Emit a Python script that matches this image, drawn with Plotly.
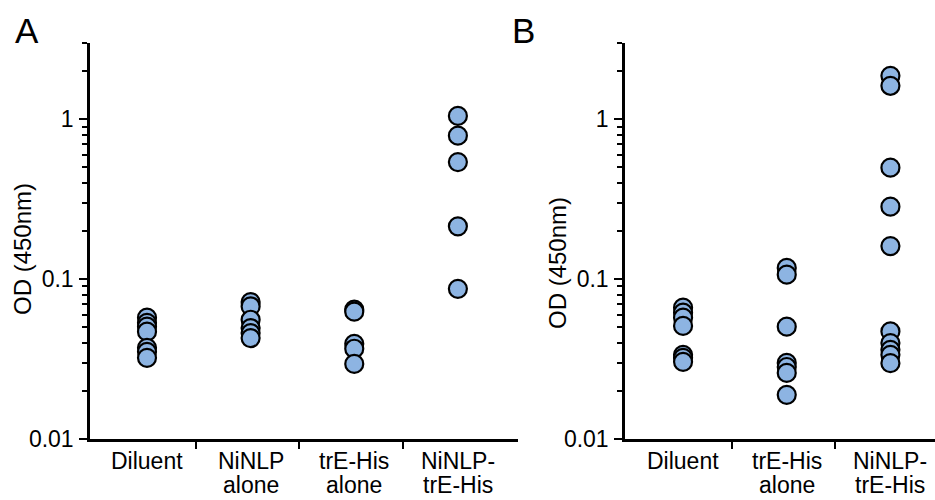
import plotly.graph_objects as go

# ---------------- data ----------------
cats_a = [["Diluent"], ["NiNLP", "alone"], ["trE-His", "alone"], ["NiNLP-", "trE-His"]]
cats_b = [["Diluent"], ["trE-His", "alone"], ["NiNLP-", "trE-His"]]

a_diluent = [0.0574, 0.0533, 0.0504, 0.0469, 0.0372, 0.0351, 0.0322]
a_ninlp = [0.0719, 0.0675, 0.0557, 0.0494, 0.0460, 0.0428]
a_tre = [0.0644, 0.0626, 0.0394, 0.0367, 0.0295]
a_combo = [1.05, 0.79, 0.54, 0.214, 0.087]

b_diluent = [0.0663, 0.0617, 0.0574, 0.0510, 0.0336, 0.0322, 0.0304]
b_tre = [0.1175, 0.1067, 0.0504, 0.0299, 0.0282, 0.0259, 0.0189]
b_combo = [1.87, 1.62, 0.498, 0.284, 0.161, 0.0471, 0.0398, 0.0361, 0.0336, 0.0298]

groups_a = [a_diluent, a_ninlp, a_tre, a_combo]
groups_b = [b_diluent, b_tre, b_combo]

y_ticks = [0.01, 0.1, 1]
y_ticktext = ["0.01", "0.1", "1"]
y_minor = [m * d for d in (0.01, 0.1) for m in range(2, 10)] + [2, 3]

FONT = "Liberation Sans, Arial, sans-serif"
FILL = "#8DB4E2"

fig = go.Figure()

def add_groups(groups, xa, ya):
    for i, vals in enumerate(groups):
        fig.add_trace(go.Scatter(
            x=[i] * len(vals), y=vals, mode="markers",
            marker=dict(size=18, color=FILL, line=dict(color="black", width=2.2)),
            xaxis=xa, yaxis=ya, showlegend=False, hoverinfo="y"))

add_groups(groups_a, "x", "y")
add_groups(groups_b, "x2", "y2")

ydom = [1 - 439 / 500, 1 - 43 / 500]

def yaxis_cfg():
    return dict(
        type="log", range=[-2, 0.4771], domain=ydom, automargin=False,
        tickvals=y_ticks, ticktext=y_ticktext,
        ticks="outside", ticklen=8, tickwidth=2, tickcolor="black",
        showline=True, linewidth=2.5, linecolor="black",
        showgrid=False, zeroline=False,
        tickfont=dict(family=FONT, size=23, color="black"),
        minor=dict(tickvals=y_minor, ticks="outside", ticklen=5, tickwidth=2,
                   tickcolor="black", showgrid=False),
        ticklabelstandoff=1,
    )

def xaxis_cfg(cats, dom, rng):
    n = len(cats)
    return dict(
        domain=dom, range=rng, automargin=False,
        tickvals=list(range(n)), showticklabels=False, ticks="",
        showline=True, linewidth=2.5, linecolor="black",
        showgrid=False, zeroline=False,
        minor=dict(tickvals=[i + 0.47 for i in range(n - 1)], ticks="outside",
                   ticklen=7, tickwidth=2, tickcolor="black", showgrid=False),
    )

fig.update_layout(
    width=935, height=500,
    margin=dict(l=0, r=0, t=0, b=0),
    paper_bgcolor="white", plot_bgcolor="white",
    xaxis=xaxis_cfg(cats_a, [90 / 935, 518 / 935], [-0.55, 3.58]),
    yaxis=dict(**yaxis_cfg(), anchor="x"),
    xaxis2=dict(**xaxis_cfg(cats_b, [625 / 935, 1.0], [-0.56, 2.43]), anchor="y2"),
    yaxis2=dict(**yaxis_cfg(), anchor="x2"),
    font=dict(family=FONT, color="black"),
)

# category labels, one annotation per text line (tight line spacing)
line_y = [461, 485]
for cats, xr in [(cats_a, "x"), (cats_b, "x2")]:
    for i, lines in enumerate(cats):
        for j, ln in enumerate(lines):
            fig.add_annotation(text=ln, x=i, xref=xr, y=1 - line_y[j] / 500, yref="paper",
                               showarrow=False, xanchor="center", yanchor="middle",
                               font=dict(family=FONT, size=23, color="black"))

# panel letters and y-axis titles
for txt, x, y in [("A", 27, 30), ("B", 523, 30)]:
    fig.add_annotation(text=txt, x=x / 935, y=1 - y / 500, xref="paper", yref="paper",
                       showarrow=False, font=dict(family=FONT, size=35, color="black"),
                       xanchor="center", yanchor="middle")
for x, y in [(22, 249), (557, 263)]:
    fig.add_annotation(text="OD (450nm)", x=x / 935, y=1 - y / 500, xref="paper", yref="paper",
                       showarrow=False, textangle=-90,
                       font=dict(family=FONT, size=24, color="black"),
                       xanchor="center", yanchor="middle")

fig.write_html("out.html")
